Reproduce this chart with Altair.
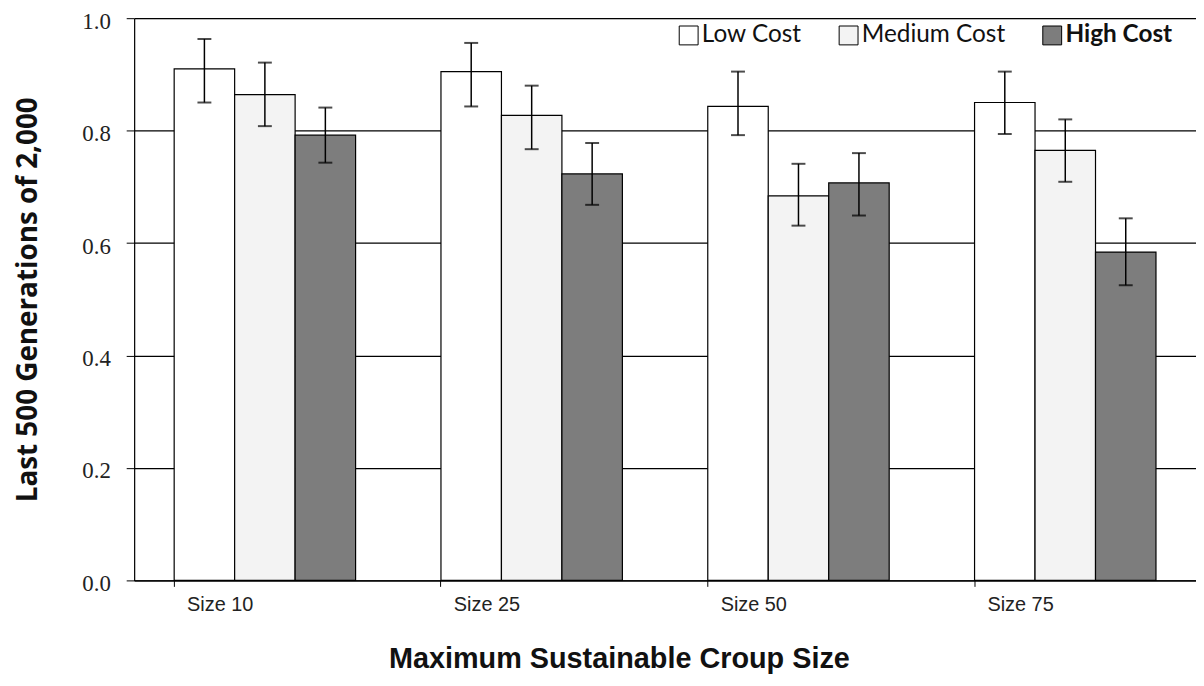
import altair as alt
import pandas as pd

groups = ["Size 10", "Size 25", "Size 50", "Size 75"]
series = ["Low Cost", "Medium Cost", "High Cost"]

low_mean = [0.910, 0.905, 0.843, 0.850]
low_hi = [0.963, 0.956, 0.905, 0.905]
low_lo = [0.850, 0.843, 0.792, 0.794]

med_mean = [0.864, 0.827, 0.684, 0.765]
med_hi = [0.921, 0.880, 0.741, 0.820]
med_lo = [0.808, 0.767, 0.631, 0.709]

high_mean = [0.792, 0.723, 0.707, 0.584]
high_hi = [0.841, 0.778, 0.760, 0.644]
high_lo = [0.743, 0.668, 0.649, 0.525]

y_ticks = [0.0, 0.2, 0.4, 0.6, 0.8, 1.0]

rows = []
for s, m, h, l in [("Low Cost", low_mean, low_hi, low_lo),
                   ("Medium Cost", med_mean, med_hi, med_lo),
                   ("High Cost", high_mean, high_hi, high_lo)]:
    for g, mv, hv, lv in zip(groups, m, h, l):
        rows.append({"group": g, "series": s, "value": mv, "hi": hv, "lo": lv})
df = pd.DataFrame(rows)

x_enc = alt.X("group:N", sort=groups,
              scale=alt.Scale(paddingInner=0.32, paddingOuter=0.15),
              axis=alt.Axis(title="Maximum Sustainable Croup Size", labelAngle=0,
                            labelFont="Liberation Sans", labelFontSize=20, labelColor="#222",
                            labelPadding=8, labelOffset=-45,
                            ticks=True, tickColor="black", tickSize=6, bandPosition=0,
                            domainColor="black", domainWidth=1.2, grid=False,
                            titleFont="Liberation Sans", titleFontSize=29, titleFontWeight="bold",
                            titleColor="#111", titlePadding=31, titleX=488, titleAlign="center"))
xo_enc = alt.XOffset("series:N", sort=series, scale=alt.Scale(paddingInner=0, paddingOuter=0))

bars = alt.Chart(df).mark_bar(stroke="black", strokeWidth=1.2).encode(
    x=x_enc,
    xOffset=xo_enc,
    y=alt.Y("value:Q", scale=alt.Scale(domain=[0, 1], nice=False),
            axis=alt.Axis(values=y_ticks, format=".1f", title="Last 500 Generations of 2,000",
                          labelFont="Liberation Serif", labelFontSize=23, labelColor="#222",
                          labelPadding=16, labelOffset=3, tickSize=8, tickColor="black",
                          domainColor="black", domainWidth=1.2,
                          grid=True, gridColor="black", gridWidth=1.2,
                          titleFont="Open Sans", titleFontSize=28, titleFontWeight="bold",
                          titleColor="#111", titleAngle=-90, titleX=-106, titleY=283,
                          titleAlign="center", titleBaseline="middle")),
    fill=alt.Fill("series:N", sort=series,
                  scale=alt.Scale(domain=series, range=["#ffffff", "#f3f3f3", "#7d7d7d"]),
                  legend=alt.Legend(title=None, orient="none", direction="horizontal",
                                    legendX=546, legendY=5, padding=0,
                                    symbolType="square", symbolSize=361,
                                    symbolStrokeColor="black", symbolStrokeWidth=1,
                                    labelFont="Lato", labelFontSize=24.5, labelColor="#111",
                                    labelOffset=1, columnPadding=35,
                                    labelFontWeight=alt.ExprRef(
                                        expr="datum.label === 'High Cost' ? 'bold' : 'normal'"))),
)

rules = alt.Chart(df).mark_rule(color="black", strokeWidth=1.5).encode(
    x=alt.X("group:N", sort=groups),
    xOffset=xo_enc,
    y="lo:Q",
    y2="hi:Q",
)

caps_hi = alt.Chart(df).mark_tick(color="black", thickness=2, size=14).encode(
    x=alt.X("group:N", sort=groups),
    xOffset=xo_enc,
    y="hi:Q",
)
caps_lo = alt.Chart(df).mark_tick(color="black", thickness=2, size=14).encode(
    x=alt.X("group:N", sort=groups),
    xOffset=xo_enc,
    y="lo:Q",
)

chart = alt.layer(bars, rules, caps_hi, caps_lo).properties(
    width=1069, height=566,
    autosize=alt.AutoSizeParams(type="none"),
    padding={"left": 127, "top": 8, "right": 0, "bottom": 96},
).configure_view(stroke=None).configure(background="white")

chart.save("out.html", embed_options={"renderer": "svg", "actions": False})
